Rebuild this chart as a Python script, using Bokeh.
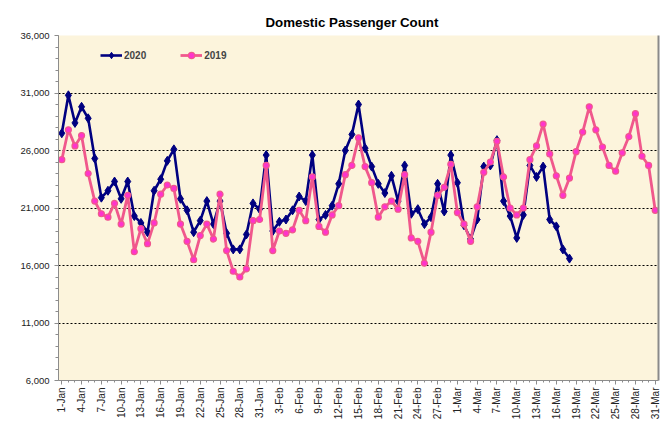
from bokeh.plotting import figure
from bokeh.models import (Range1d, FixedTicker, NumeralTickFormatter, LinearAxis,
                          Legend, LegendItem)
from bokeh.embed import file_html
from bokeh.resources import INLINE
from math import pi

# ---- data ----
months = ["Jan", "Feb", "Mar"]
month_days = [31, 29, 31]
days = [f"{d}-{m}" for m, n in zip(months, month_days) for d in range(1, n + 1)]

y2020 = [27500, 30800, 28400, 29800, 28800, 25300, 21900, 22500, 23300, 21800,
         23300, 20300, 19700, 18900, 22500, 23500, 25100, 26100, 21800, 20800,
         18900, 19900, 21600, 19600, 21600, 18800, 17400, 17400, 18700, 21400,
         20900, 25600, 19000, 19800, 20000, 20800, 22000, 21600, 25600, 20000,
         20400, 21200, 23100, 26000, 27400, 30000, 26200, 24600, 23100, 22300,
         23800, 21600, 24700, 20500, 20900, 19600, 20200, 23100, 20700, 25600,
         23200, 19500, 18300, 20000, 24600, 24700, 26900, 21600, 20300, 18400,
         20400, 24700, 23700, 24600, 20000, 19400, 17400, 16600]

y2019 = [25200, 27800, 26400, 27300, 24000, 21600, 20500, 20200, 21400, 19600,
         22100, 17200, 19200, 17900, 19700, 22200, 23000, 22700, 19600, 18100,
         16500, 18600, 19600, 18300, 22200, 17300, 15500, 15000, 15700, 19900,
         20000, 24700, 17300, 19000, 18800, 19100, 20800, 19900, 23700, 19400,
         18900, 20400, 21200, 23900, 24700, 27100, 24600, 23200, 20200, 21100,
         21600, 20900, 23900, 18400, 18100, 16200, 18900, 22100, 22800, 24800,
         20600, 19600, 18100, 21100, 24100, 25000, 26800, 23700, 21000, 20400,
         21000, 25200, 26400, 28300, 25700, 23800, 22100, 23600, 25900, 27600,
         29800, 27800, 26300, 24700, 24200, 25800, 27200, 29200, 25500, 24700,
         20800]

y_ticks = [6000, 11000, 16000, 21000, 26000, 31000, 36000]
label_step = 3

x2020 = list(range(len(y2020)))
x2019 = list(range(len(y2019)))

FONT = "Liberation Sans"

p = figure(width=667, height=422, output_backend="svg", toolbar_location=None,
           x_range=Range1d(-0.5, len(days) - 0.5),
           y_range=Range1d(y_ticks[0], y_ticks[-1]),
           min_border_left=58, min_border_right=9, min_border_top=35,
           min_border_bottom=41)

p.background_fill_color = "#FCF4DC"
p.border_fill_color = "white"
p.outline_line_color = None

# title
p.title.text = "Domestic Passenger Count"
p.title.align = "left"
p.title.offset = 207
p.title.text_font = FONT
p.title.text_font_size = "13.3px"
p.title.text_font_style = "bold"
p.title.text_color = "black"
p.title.standoff = 12

# grid
p.xgrid.visible = False
p.ygrid.ticker = FixedTicker(ticks=y_ticks)
p.ygrid.grid_line_color = "black"
p.ygrid.grid_line_dash = "2 2"
p.ygrid.grid_line_width = 1

# y axis
ya = p.yaxis[0]
ya.ticker = FixedTicker(ticks=y_ticks, minor_ticks=list(range(y_ticks[0], y_ticks[-1] + 1, 1000)))
ya.formatter = NumeralTickFormatter(format="0,0")
ya.axis_line_color = "#8c8c8c"
ya.major_tick_line_color = "#8c8c8c"
ya.minor_tick_line_color = "#8c8c8c"
ya.major_tick_in = 0
ya.major_tick_out = 4
ya.minor_tick_in = 0
ya.minor_tick_out = 3
ya.major_label_text_font = FONT
ya.major_label_text_font_size = "9.5px"
ya.major_label_text_color = "#222222"
ya.major_label_standoff = 5

# x axis
xa = p.xaxis[0]
label_idx = list(range(0, len(days), label_step))
xa.ticker = FixedTicker(ticks=label_idx, minor_ticks=list(range(len(days))))
xa.major_label_overrides = {i: days[i] for i in label_idx}
xa.major_label_orientation = pi / 2
xa.axis_line_color = "#8c8c8c"
xa.major_tick_line_color = "#8c8c8c"
xa.minor_tick_line_color = "#8c8c8c"
xa.major_tick_in = 0
xa.major_tick_out = 4
xa.minor_tick_in = 0
xa.minor_tick_out = 2
xa.major_label_text_font = FONT
xa.major_label_text_font_size = "10px"
xa.major_label_text_color = "#222222"
xa.major_label_standoff = 3

# right shadow edge
ra = LinearAxis(ticker=FixedTicker(ticks=[]), axis_line_color="#8a8a8a",
                axis_line_width=2, major_tick_line_color=None,
                minor_tick_line_color=None, major_label_text_font_size="0px")
p.add_layout(ra, "right")

# series
NAVY = "#000080"
PINK = "#F0588C"
MAG = "#FF33CC"

l20 = p.line(x2020, y2020, line_color=NAVY, line_width=2.6)
s20 = p.scatter(x2020, y2020, marker="diamond", size=9, fill_color=NAVY,
                line_color=NAVY, line_width=1)
l19 = p.line(x2019, y2019, line_color=PINK, line_width=2.8)
s19 = p.scatter(x2019, y2019, marker="circle", size=6, fill_color=MAG,
                line_color=PINK, line_width=1.2)

legend = Legend(items=[LegendItem(label="2020", renderers=[l20, s20]),
                       LegendItem(label="2019", renderers=[l19, s19])],
                orientation="horizontal", location=(42, 317),
                background_fill_alpha=0, border_line_color=None,
                label_text_font=FONT, label_text_font_style="bold",
                label_text_font_size="10px", glyph_width=22, glyph_height=16,
                label_standoff=2, spacing=34, padding=0, margin=0)
p.add_layout(legend)

open("out.html", "w").write(file_html(p, INLINE))
